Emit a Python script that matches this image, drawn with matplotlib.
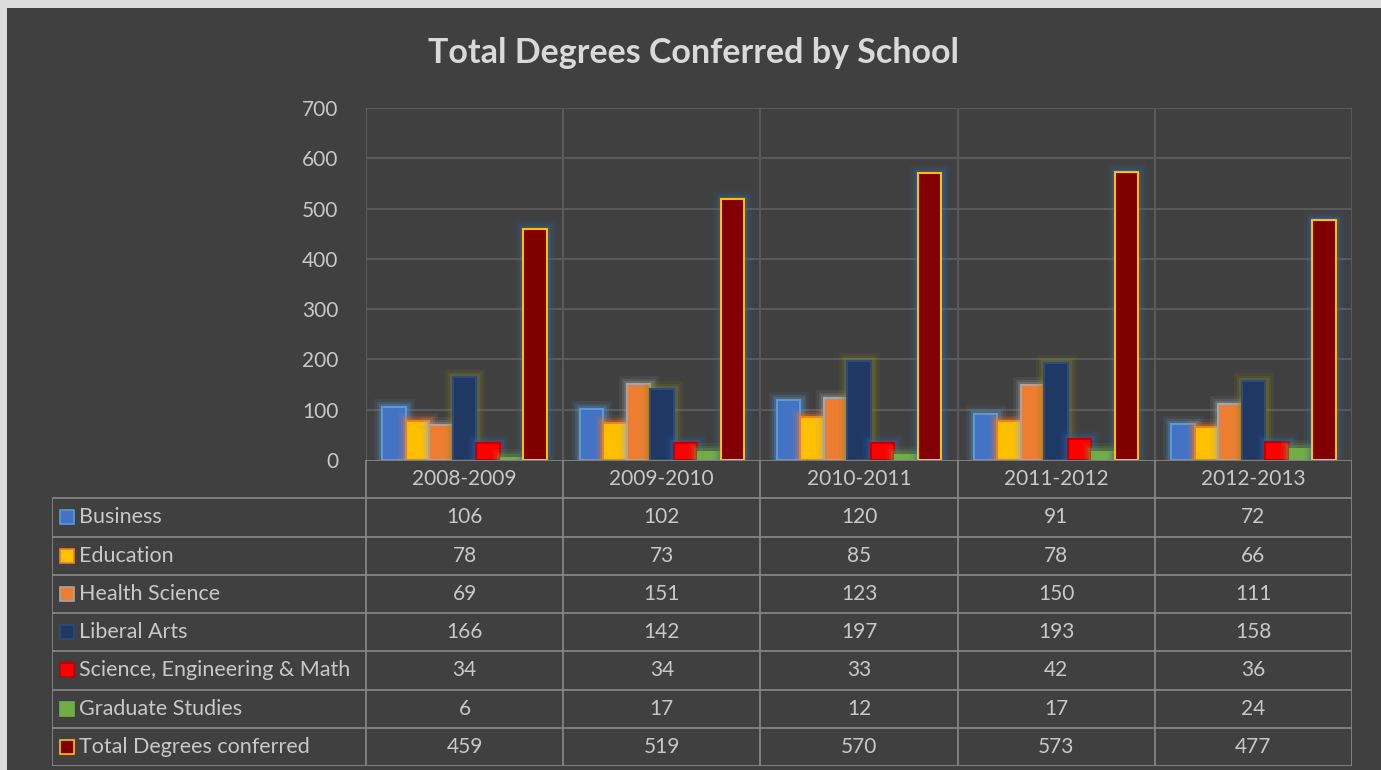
import matplotlib
matplotlib.use("Agg")
import matplotlib.pyplot as plt
import matplotlib.patheffects as pe
from matplotlib.patches import Rectangle
import numpy as np

plt.rcParams['font.family'] = ['Lato', 'DejaVu Sans']

title = "Total Degrees Conferred by School"
years = ["2008-2009", "2009-2010", "2010-2011", "2011-2012", "2012-2013"]
series_names = ["Business", "Education", "Health Science", "Liberal Arts",
                "Science, Engineering & Math", "Graduate Studies",
                "Total Degrees conferred"]
business = [106, 102, 120, 91, 72]
education = [78, 73, 85, 78, 66]
health_science = [69, 151, 123, 150, 111]
liberal_arts = [166, 142, 197, 193, 158]
science_eng_math = [34, 34, 33, 42, 36]
graduate_studies = [6, 17, 12, 17, 24]
total_degrees = [459, 519, 570, 573, 477]
series_values = [business, education, health_science, liberal_arts,
                 science_eng_math, graduate_studies, total_degrees]
y_ticks = [0, 100, 200, 300, 400, 500, 600, 700]

fills = ["#4472c4", "#ffc000", "#ed7d31", "#203864", "#ff0000", "#70ad47", "#800000"]
edges = ["#5b9bd5", "#ed7d31", "#a5a5a5", "#2f4b7c", "#c00000", "#70ad47", "#ffc000"]
glows = ["#5b9bd5", "#ed7d31", "#a5a5a5", "#8a8a1a", "#2e6bb0", "#70ad47", "#2e6bb0"]
edge_lw = [1.5, 1.5, 1.5, 1.5, 1.5, 0.0, 1.5]

BG = "#404040"
GRID = "#595959"
TLINE = "#8a8a8a"
TXT = "#c8c8c8"
FS = 15

W, H = 1381, 770
fig = plt.figure(figsize=(W / 100, H / 100), dpi=100)
fig.patch.set_facecolor("#dcdcdc")
fig.patches.append(Rectangle((7 / W, 0), 1 - 7 / W, 1 - 8 / H, transform=fig.transFigure,
                             facecolor=BG, edgecolor="none", zorder=-10))

def fx(px):
    return px / W

def fy(py):
    return 1 - py / H

# plot axes
x0, x1, y0, y1 = 366, 1352, 108, 460
ax = fig.add_axes([fx(x0), fy(y1), fx(x1) - fx(x0), fy(y0) - fy(y1)])
ax.set_facecolor("none")
n = len(years)
x = np.arange(n)
ax.set_xlim(-0.5, n - 0.5)
ax.set_ylim(0, 700)
for s in ax.spines.values():
    s.set_visible(False)
ax.set_yticks(y_ticks)
ax.set_xticks([])
ax.tick_params(axis='y', length=0, labelsize=FS, labelcolor=TXT, pad=20)
for t in y_ticks[1:]:
    ax.axhline(t, color=GRID, lw=1.5, zorder=0)
for b in np.arange(-0.5, n, 1.0):
    ax.axvline(b, color=GRID, lw=1.5, zorder=0)

w = 23.5 / ((x1 - x0) / n)
for i, (vals, fc, ec, gc, lw) in enumerate(zip(series_values, fills, edges, glows, edge_lw)):
    offs = (i - 3) * w
    bars = ax.bar(x + offs, vals, width=w, color=fc, edgecolor=ec if lw > 0 else fc,
                  linewidth=lw, zorder=3)
    for bar in bars:
        bar.set_path_effects([
            pe.Stroke(linewidth=12, foreground=gc, alpha=0.10),
            pe.Stroke(linewidth=8, foreground=gc, alpha=0.16),
            pe.Stroke(linewidth=5, foreground=gc, alpha=0.25),
            pe.Normal()])

# table axes
tx0, ty0, ty1 = 52, 460, 766
tax = fig.add_axes([fx(tx0), fy(ty1), fx(x1) - fx(tx0), fy(ty0) - fy(ty1)])
tax.set_facecolor("none")
for s in tax.spines.values():
    s.set_visible(False)
tax.set_xticks([])
tax.set_yticks([])
L = (x0 - tx0) / ((x1 - x0) / n)
left = -0.5 - L
tax.set_xlim(left, n - 0.5)
nrows = len(series_names) + 1
tax.set_ylim(nrows, 0)

lc = dict(color=TLINE, lw=1.2, solid_capstyle='butt')
tax.plot([-0.5, n - 0.5], [0, 0], **lc)
for r in range(1, nrows + 1):
    tax.plot([left, n - 0.5], [r, r], **lc)
tax.plot([left, left], [1, nrows], **lc)
for b in np.arange(-0.5, n, 1.0):
    tax.plot([b, b], [0, nrows], **lc)

for j, yr in enumerate(years):
    tax.text(j, 0.5, yr, ha='center', va='center', fontsize=FS, color=TXT)

unit = (x1 - x0) / n
for r, (name, vals, fc, ec, lw) in enumerate(zip(series_names, series_values, fills, edges, edge_lw)):
    yc = r + 1.5
    tax.plot([left + (67 - tx0) / unit], [yc], marker='s', markersize=9.5,
             markerfacecolor=fc, markeredgecolor=ec if lw > 0 else fc,
             markeredgewidth=1.2, clip_on=False)
    tax.text(left + (79 - tx0) / unit, yc, name, ha='left', va='center',
             fontsize=15.5, color=TXT)
    for j, v in enumerate(vals):
        tax.text(j, yc, str(v), ha='center', va='center', fontsize=FS, color=TXT)

fig.text(fx(694), fy(53), title, ha='center', va='center', fontsize=24.5,
         fontweight='bold', color="#d9d9d9")

fig.savefig("out.png", dpi=100, facecolor=fig.get_facecolor())
